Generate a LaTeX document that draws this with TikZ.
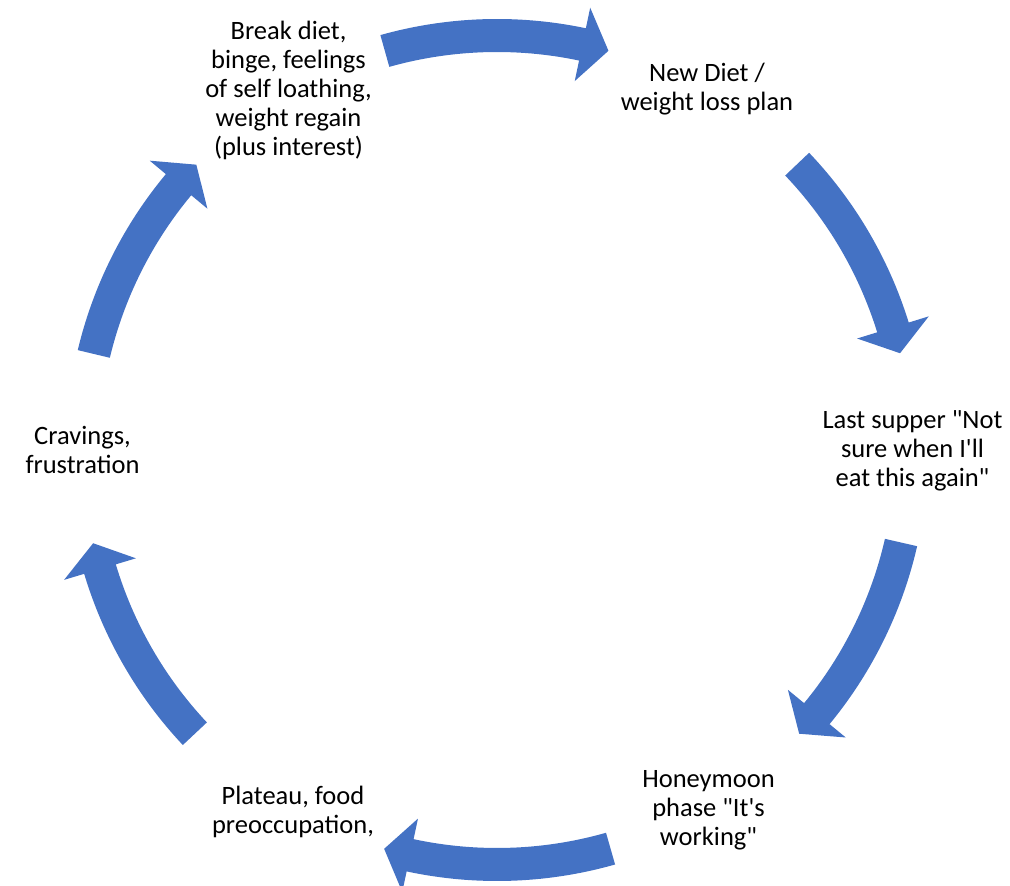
\documentclass[tikz,border=0pt]{standalone}
\usepackage{fontspec}
\setmainfont{Carlito}
\newfontfamily\cfont{Carlito}
\usetikzlibrary{calc}
\definecolor{arrowblue}{HTML}{4472C4}
\newcommand\cycarrow[2]{% #1 tail angle, #2 tip angle (clockwise)
  \pgfmathsetmacro\cyHB{#2+3.7}%
  \fill[arrowblue] ($(C)+(#1:431pt)$) arc[start angle=#1, end angle=\cyHB, radius=431pt]
    -- ($(C)+(\cyHB:452pt)$) -- ($(C)+(#2:414.5pt)$) -- ($(C)+(\cyHB:377pt)$)
    -- ($(C)+(\cyHB:398pt)$) arc[start angle=\cyHB, end angle=#1, radius=398pt] -- cycle;}
\tikzset{
  label/.style={align=center, inner sep=0pt, text=black, font=\cfont\fontsize{26.5}{29}\selectfont}
}
\begin{document}
\begin{tikzpicture}[x=1pt,y=1pt]
\useasboundingbox (0,0) rectangle (1010,886);
\coordinate (C) at (497,436);
\cycarrow{105.7}{74.4}
\cycarrow{43.6}{13.5}
\cycarrow{-12.9}{-43.2}
\cycarrow{-74.1}{-105.8}
\cycarrow{-136.8}{-167.0}
\cycarrow{166.6}{136.5}
\node[label] (brk) at (288.5,796) {Break diet,\\binge, feelings\\of self loathing,\\weight regain\\(plus interest)};
\node[label] (new) at (707,797) {New Diet /\\weight loss plan};
\node[label] (last) at (912.5,435) {Last supper "Not\\sure when I'll\\eat this again"};
\node[label] (honey) at (708.5,76) {Honeymoon\\phase "It's\\working"};
\node[label] (plat) at (293,74) {Plateau, food\\preoccupation,};
\node[label] (crav) at (82.5,436) {Cravings,\\frustration};
\end{tikzpicture}
\end{document}
